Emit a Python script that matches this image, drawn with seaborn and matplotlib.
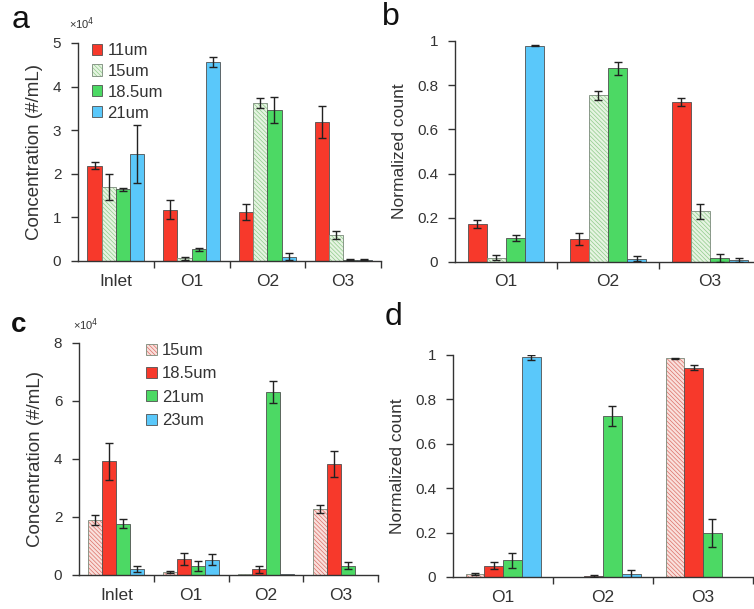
import numpy as np
import pandas as pd
import seaborn as sns
import matplotlib
matplotlib.use("Agg")
import matplotlib.pyplot as plt
from matplotlib.container import BarContainer
from matplotlib.colors import to_rgba

sns.set_theme(style="white")
plt.rcParams['font.family'] = ['Liberation Sans', 'DejaVu Sans']
plt.rcParams['hatch.linewidth'] = 0.5

# ---------------- data ----------------
cats_a = ["Inlet", "O1", "O2", "O3"]
sizes_a = ["11um", "15um", "18.5um", "21um"]
vals_a = [[2.18, 1.18, 1.12, 3.18],
          [1.70, 0.06, 3.62, 0.59],
          [1.64, 0.27, 3.46, 0.03],
          [2.46, 4.57, 0.10, 0.03]]
errs_a = [[0.08, 0.22, 0.19, 0.37],
          [0.30, 0.03, 0.12, 0.09],
          [0.04, 0.03, 0.30, 0.01],
          [0.67, 0.12, 0.08, 0.01]]

cats_b = ["O1", "O2", "O3"]
vals_b = [[0.174, 0.106, 0.722],
          [0.020, 0.754, 0.229],
          [0.109, 0.876, 0.018],
          [0.979, 0.015, 0.010]]
errs_b = [[0.018, 0.027, 0.018],
          [0.010, 0.022, 0.035],
          [0.015, 0.030, 0.018],
          [0.002, 0.010, 0.008]]

cats_c = ["Inlet", "O1", "O2", "O3"]
sizes_c = ["15um", "18.5um", "21um", "23um"]
vals_c = [[1.91, 0.10, 0.02, 2.28],
          [3.92, 0.56, 0.20, 3.83],
          [1.77, 0.30, 6.30, 0.32],
          [0.21, 0.53, 0.02, 0.00]]
errs_c = [[0.17, 0.03, 0.00, 0.14],
          [0.63, 0.21, 0.12, 0.45],
          [0.16, 0.17, 0.38, 0.12],
          [0.11, 0.18, 0.00, 0.00]]

cats_d = ["O1", "O2", "O3"]
vals_d = [[0.015, 0.002, 0.985],
          [0.051, 0.006, 0.943],
          [0.075, 0.726, 0.200],
          [0.990, 0.012, 0.000]]
errs_d = [[0.005, 0.000, 0.003],
          [0.015, 0.005, 0.010],
          [0.035, 0.045, 0.063],
          [0.012, 0.020, 0.000]]

RED = "#f7392b"
GREEN = "#4cd964"
BLUE = "#5ac8fa"
HGREEN_BG = "#e6f4e2"
HGREEN_LN = "#8fcb8a"
HRED_BG = "#f9e0dc"
HRED_LN = "#dc7068"
EDGE = "#505050"
TXT = "#333333"

fig = plt.figure(figsize=(7.54, 6.09), dpi=100)
W, H = 754.0, 609.0


def make_ax(left, right, top, bottom):
    return fig.add_axes([left / W, 1 - bottom / H, (right - left) / W, (bottom - top) / H])


def bar_containers(ax):
    return [c for c in ax.containers if isinstance(c, BarContainer)]


def apply_hatch(bar, bg, ln):
    bar.set_facecolor(bg)
    bar.set_hatch("\\\\\\\\\\\\\\\\")
    if hasattr(bar, "set_hatchcolor"):
        bar.set_edgecolor("#7a8a7a")
        bar.set_hatchcolor(ln)
    else:
        bar.set_edgecolor("#7a8a7a")
        bar._hatch_color = to_rgba(ln)


def panel(ax, cats, sizes, vals, errs, colors, hatch_idx, hatch_bg, hatch_ln,
          ymax, yticks, yticklabels, ylabel, ylsize, nminor):
    rows = []
    for si, s in enumerate(sizes):
        for ci, c in enumerate(cats):
            rows.append({"cat": c, "size": s, "val": vals[si][ci]})
    df = pd.DataFrame(rows)
    sns.barplot(data=df, x="cat", y="val", hue="size", order=cats, hue_order=sizes,
                palette=colors, width=0.75, errorbar=None, ax=ax,
                edgecolor=EDGE, linewidth=0.6, saturation=1, legend=False)
    for si, cont in enumerate(bar_containers(ax)):
        xs, ys, es = [], [], []
        for ci, bar in enumerate(cont.patches):
            if si == hatch_idx:
                apply_hatch(bar, hatch_bg, hatch_ln)
            if errs[si][ci] > 0:
                xs.append(bar.get_x() + bar.get_width() / 2)
                ys.append(bar.get_height())
                es.append(errs[si][ci])
        ax.errorbar(xs, ys, yerr=es, fmt="none", ecolor="#222222",
                    elinewidth=1.0, capsize=3.2, capthick=1.0, zorder=5)
    ax.set_xlim(-0.5, len(cats) - 0.5)
    ax.set_ylim(0, ymax)
    ax.set_yticks(yticks)
    ax.set_yticklabels(yticklabels)
    ax.set_xticks(range(len(cats)))
    ax.set_xticklabels(cats)
    ax.set_xticks([i + 0.5 for i in range(nminor)], minor=True)
    ax.tick_params(axis="x", which="major", length=0, labelsize=12.5, pad=9, colors=TXT)
    ax.tick_params(axis="x", which="minor", length=5, width=1, color="#333333", bottom=True)
    ax.tick_params(axis="y", which="major", length=5, width=1, labelsize=11, pad=7,
                   colors=TXT, left=True)
    ax.tick_params(axis="y", color="#333333")
    ax.set_xlabel("")
    ax.set_ylabel(ylabel, fontsize=ylsize, color=TXT, labelpad=7)
    for sp in ["top", "right"]:
        ax.spines[sp].set_visible(False)
    for sp in ["left", "bottom"]:
        ax.spines[sp].set_color("#333333")
        ax.spines[sp].set_linewidth(1.0)
    ax.patch.set_alpha(0)


def add_legend(ax, sizes, x, y, spacing):
    handles = [cont.patches[0] for cont in bar_containers(ax)]
    leg = ax.legend(handles, sizes, loc="upper left", bbox_to_anchor=(x, y),
                    frameon=False, fontsize=12, handlelength=0.65, handleheight=0.65,
                    handletextpad=0.3, labelspacing=spacing, borderpad=0,
                    borderaxespad=0)
    for t in leg.get_texts():
        t.set_color(TXT)


# panel a
ax_a = make_ax(78, 381, 43, 261)
panel(ax_a, cats_a, sizes_a, vals_a, errs_a, [RED, HGREEN_BG, GREEN, BLUE], 1,
      HGREEN_BG, HGREEN_LN, 5, [0, 1, 2, 3, 4, 5], ["0", "1", "2", "3", "4", "5"],
      "Concentration (#/mL)", 13.5, 4)
add_legend(ax_a, sizes_a, 0.045, 1.0, 0.35)
ax_a.text(-0.03, 1.05, "×10$^4$", transform=ax_a.transAxes, fontsize=8, color=TXT,
          ha="left", va="bottom")

# panel b
ax_b = make_ax(455, 761, 41, 262)
panel(ax_b, cats_b, sizes_a, vals_b, errs_b, [RED, HGREEN_BG, GREEN, BLUE], 1,
      HGREEN_BG, HGREEN_LN, 1, [0, 0.2, 0.4, 0.6, 0.8, 1.0],
      ["0", "0.2", "0.4", "0.6", "0.8", "1"], "Normalized count", 12.5, 3)

# panel c
ax_c = make_ax(79, 378, 343, 575)
panel(ax_c, cats_c, sizes_c, vals_c, errs_c, [HRED_BG, RED, GREEN, BLUE], 0,
      HRED_BG, HRED_LN, 8, [0, 2, 4, 6, 8], ["0", "2", "4", "6", "8"],
      "Concentration (#/mL)", 13.5, 4)
add_legend(ax_c, sizes_c, 0.225, 1.0, 0.5)
ax_c.text(-0.02, 1.045, "×10$^4$", transform=ax_c.transAxes, fontsize=8, color=TXT,
          ha="left", va="bottom")

# panel d
ax_d = make_ax(453, 753, 355, 577)
panel(ax_d, cats_d, sizes_c, vals_d, errs_d, [HRED_BG, RED, GREEN, BLUE], 0,
      HRED_BG, HRED_LN, 1, [0, 0.2, 0.4, 0.6, 0.8, 1.0],
      ["0", "0.2", "0.4", "0.6", "0.8", "1"], "Normalized count", 12.5, 3)

# panel letters
fig.text(12 / W, 1 - 28 / H, "a", fontsize=23, color="#111111", va="baseline")
fig.text(382 / W, 1 - 25 / H, "b", fontsize=23, color="#111111", va="baseline")
fig.text(11 / W, 1 - 332 / H, "c", fontsize=20, color="#111111", va="baseline",
         fontweight="bold")
fig.text(385 / W, 1 - 325 / H, "d", fontsize=23, color="#111111", va="baseline")

fig.savefig("out.png", dpi=100, facecolor="white")
